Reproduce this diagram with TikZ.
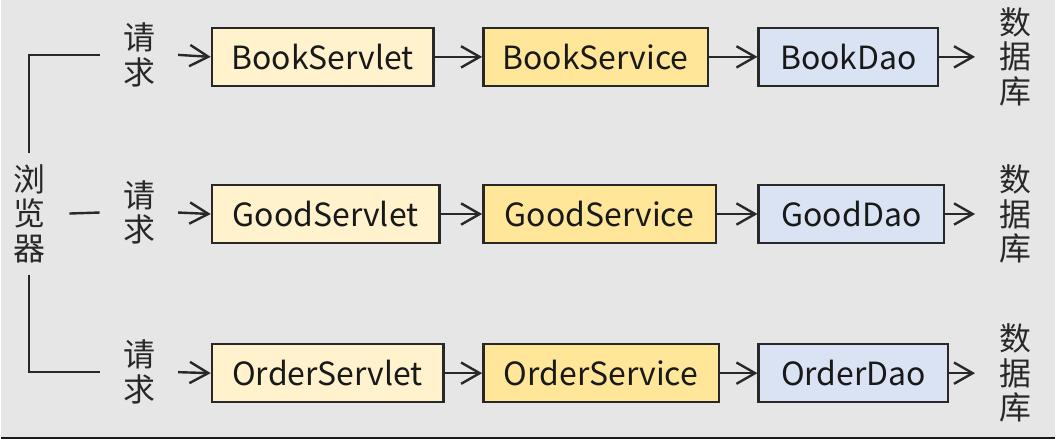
\documentclass[tikz,border=0pt]{standalone}
\usepackage{fontspec}
\setmainfont{Noto Sans CJK SC}
\usetikzlibrary{arrows.meta,positioning}
\definecolor{PageGray}{RGB}{230,230,230}
\definecolor{EdgeGray}{RGB}{40,40,40}
\definecolor{ServletYellow}{RGB}{255,242,204}
\definecolor{ServiceGold}{RGB}{255,230,153}
\definecolor{DaoBlue}{RGB}{218,227,243}

\begin{document}
\begin{tikzpicture}[x=0.75pt,y=-0.75pt,>={Straight Barb[length=14pt,width=16pt]},
    box/.style={draw=EdgeGray,line width=1.8pt,minimum height=43.5pt,inner sep=0pt,
      anchor=west,text=black!90,font=\fontsize{24}{26}\selectfont},
    servlet/.style={box,fill=ServletYellow},
    service/.style={box,fill=ServiceGold},
    dao/.style={box,fill=DaoBlue},
    vtext/.style={align=center,inner sep=0pt,text=EdgeGray,font=\fontsize{24}{26}\selectfont},
    wire/.style={EdgeGray,line width=1.8pt}]
    \fill[PageGray] (0,0) rectangle (1056,440);
    \draw[line width=1.8pt,black!90] (0,438.8)--(1056,438.8);
    % browser and requests
    \node[vtext] (browser) at (28,214) {浏\\览\\器};
    \node[vtext] (req1) at (139,55) {请\\求};
    \node[vtext] (req2) at (139,213) {请\\求};
    \node[vtext] (req3) at (139,373) {请\\求};
    \draw[wire] ([yshift=8pt]browser.north) |- ([xshift=-18pt]req1.west);
    \draw[wire] ([xshift=18pt]browser.east) -- ([xshift=-18pt]req2.west);
    \draw[wire] ([yshift=-9pt]browser.south) |- ([xshift=-18pt]req3.west);
    % Book
    \node[servlet,minimum width=166.5pt] (bookservlet) at (210,57) {BookServlet};
    \node[service,minimum width=168.75pt] (bookservice) at (482,57) {BookService};
    \node[dao,minimum width=135pt] (bookdao) at (758,57) {BookDao};
    \node[vtext] (db1) at (1017,57) {数\\据\\库};
    % Good
    \node[servlet,minimum width=171pt] (goodservlet) at (210,214.5) {GoodServlet};
    \node[service,minimum width=174.75pt] (goodservice) at (482,214.5) {GoodService};
    \node[dao,minimum width=139.5pt] (gooddao) at (758,214.5) {GoodDao};
    \node[vtext] (db2) at (1017,214.5) {数\\据\\库};
    % Order
    \node[servlet,minimum width=174pt] (orderservlet) at (210,374) {OrderServlet};
    \node[service,minimum width=177pt] (orderservice) at (482,374) {OrderService};
    \node[dao,minimum width=142.5pt] (orderdao) at (758,374) {OrderDao};
    \node[vtext] (db3) at (1017,374) {数\\据\\库};
    % arrows
    \draw[wire,->] ([xshift=16.5pt]req1.east) -- (bookservlet.west);
    \draw[wire,->] (bookservlet) -- (bookservice);
    \draw[wire,->] (bookservice) -- (bookdao);
    \draw[wire,->] (bookdao.east) -- ([xshift=-18.5pt]db1.west);
    \draw[wire,->] ([xshift=16.5pt]req2.east) -- (goodservlet.west);
    \draw[wire,->] (goodservlet) -- (goodservice);
    \draw[wire,->] (goodservice) -- (gooddao);
    \draw[wire,->] (gooddao.east) -- ([xshift=-18.5pt]db2.west);
    \draw[wire,->] ([xshift=16.5pt]req3.east) -- (orderservlet.west);
    \draw[wire,->] (orderservlet) -- (orderservice);
    \draw[wire,->] (orderservice) -- (orderdao);
    \draw[wire,->] (orderdao.east) -- ([xshift=-18.5pt]db3.west);
  \end{tikzpicture}
\end{document}
